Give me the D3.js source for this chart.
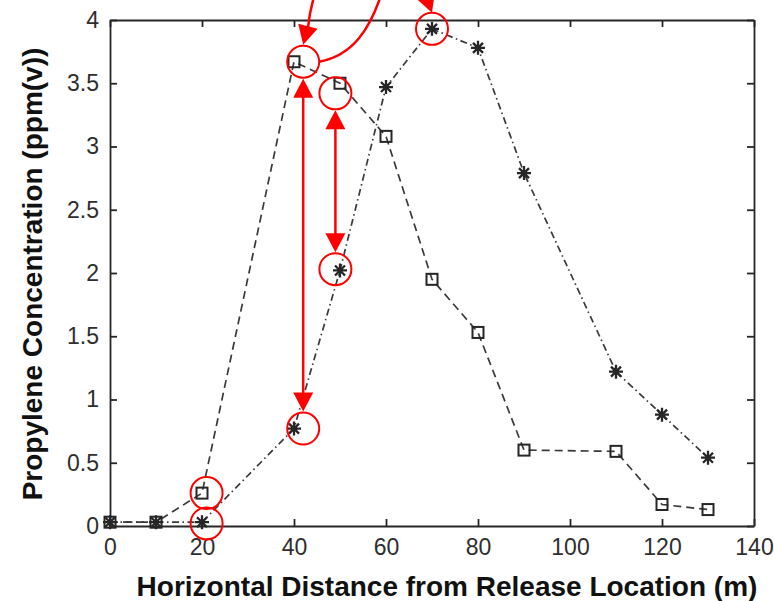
<!DOCTYPE html>
<html>
<head>
<meta charset="utf-8">
<script src="https://cdn.jsdelivr.net/npm/d3@7"></script>
<style>
  html, body { margin: 0; padding: 0; background: #fff; }
  svg { display: block; }
  text { font-family: "Liberation Sans", Arial, sans-serif; }
</style>
</head>
<body>
<script>
// ---- data ----
const distances = [0, 10, 20, 40, 50, 60, 70, 80, 90, 110, 120, 130];
const squareSeries = [0.03, 0.03, 0.26, 3.67, 3.50, 3.08, 1.95, 1.53, 0.60, 0.59, 0.17, 0.13];
const starSeries   = [0.03, 0.03, 0.03, 0.77, 2.02, 3.47, 3.93, 3.78, 2.79, 1.22, 0.88, 0.54];
const xTicks = [0, 20, 40, 60, 80, 100, 120, 140];
const yTicks = [0, 0.5, 1, 1.5, 2, 2.5, 3, 3.5, 4];
const xLabel = "Horizontal Distance from Release Location (m)";
const yLabel = "Propylene Concentration (ppm(v))";
// red annotation circles (data coordinates)
const circleX = [42, 49, 70, 49, 42, 21, 21];
const circleY = [3.67, 3.42, 3.93, 2.03, 0.77, 0.26, 0.02];
// double-headed arrows: x, y from, y to (data coordinates)
const arrowX  = [42, 49];
const arrowY1 = [3.67, 3.42];
const arrowY2 = [0.77, 2.03];

const W = 774, H = 601;
const svg = d3.select("body").append("svg").attr("width", W).attr("height", H);

const x = d3.scaleLinear().domain([0, 140]).range([110, 754]);
const y = d3.scaleLinear().domain([0, 4]).range([526, 20]);

const axisColor = "#262626";
const tickFont = 23;

function styleAxis(g) {
  g.selectAll("path.domain").attr("stroke", axisColor).attr("stroke-width", 1.8);
  g.selectAll(".tick line").attr("stroke", axisColor).attr("stroke-width", 1.8);
  g.selectAll(".tick text").attr("fill", "#2e2e2e")
    .style("font-size", tickFont + "px").style("font-family", '"Liberation Sans", Arial, sans-serif');
}

svg.append("g").attr("transform", `translate(0,${y(0)})`)
  .call(d3.axisBottom(x).tickValues(xTicks).tickSize(-7).tickSizeOuter(0).tickPadding(13).tickFormat(d3.format("d")))
  .call(styleAxis);
svg.append("g").attr("transform", `translate(0,${y(4)})`)
  .call(d3.axisTop(x).tickValues(xTicks).tickSize(-7).tickSizeOuter(0).tickFormat(""))
  .call(styleAxis);
svg.append("g").attr("transform", `translate(${x(0)},0)`)
  .call(d3.axisLeft(y).tickValues(yTicks).tickSize(-7).tickSizeOuter(0).tickPadding(11).tickFormat(d => d3.format("")(d)))
  .call(styleAxis);
svg.append("g").attr("transform", `translate(${x(140)},0)`)
  .call(d3.axisRight(y).tickValues(yTicks).tickSize(-7).tickSizeOuter(0).tickFormat(""))
  .call(styleAxis);

// ---- series ----
const sqData = distances.map((d, i) => [d, squareSeries[i]]);
const stData = distances.map((d, i) => [d, starSeries[i]]);
const line = d3.line().x(d => x(d[0])).y(d => y(d[1]));

svg.append("path").datum(sqData).attr("d", line)
  .attr("fill", "none").attr("stroke", "#3a3a3a").attr("stroke-width", 1.7)
  .attr("stroke-dasharray", "8,5");
svg.append("path").datum(stData).attr("d", line)
  .attr("fill", "none").attr("stroke", "#3a3a3a").attr("stroke-width", 1.7)
  .attr("stroke-dasharray", "7,3.5,1.5,3.5");

svg.append("g").selectAll("rect").data(sqData).join("rect")
  .attr("x", d => x(d[0]) - 5.5).attr("y", d => y(d[1]) - 5.5)
  .attr("width", 11).attr("height", 11)
  .attr("fill", "none").attr("stroke", axisColor).attr("stroke-width", 2);

const starPath = "M-7,0H7M0,-7V7M-5,-5L5,5M-5,5L5,-5";
svg.append("g").selectAll("path").data(stData).join("path")
  .attr("transform", d => `translate(${x(d[0])},${y(d[1])})`)
  .attr("d", starPath).attr("fill", "none").attr("stroke", axisColor).attr("stroke-width", 2.3);

// ---- labels ----
svg.append("text").text(xLabel)
  .attr("x", 447).attr("y", 596).attr("text-anchor", "middle")
  .style("font-size", "28px").style("font-weight", "bold").attr("fill", "#111");
svg.append("text").text(yLabel)
  .attr("transform", "translate(42,274) rotate(-90)").attr("text-anchor", "middle")
  .style("font-size", "28px").style("font-weight", "bold").attr("fill", "#111");

// ---- red annotations ----
const red = "#ff0000";
const R = 16;
const ann = svg.append("g");
circleX.forEach((cx, i) => {
  ann.append("circle").attr("cx", x(cx)).attr("cy", y(circleY[i])).attr("r", R)
    .attr("fill", "none").attr("stroke", red).attr("stroke-width", 2);
});

function arrowHead(g, tipX, tipY, angle) {
  const L = 19, hw = 10;
  const ux = Math.cos(angle), uy = Math.sin(angle);
  const bx = tipX - L * ux, by = tipY - L * uy;
  const px = -uy, py = ux;
  g.append("path")
    .attr("d", `M${tipX},${tipY}L${bx + hw * px},${by + hw * py}L${bx - hw * px},${by - hw * py}Z`)
    .attr("fill", red);
  return [bx, by];
}

arrowX.forEach((ax, i) => {
  const px = x(ax);
  const top = y(arrowY1[i]) + R + 1;
  const bot = y(arrowY2[i]) - R - 1;
  ann.append("line").attr("x1", px).attr("x2", px).attr("y1", top + 15).attr("y2", bot - 15)
    .attr("stroke", red).attr("stroke-width", 2.5);
  arrowHead(ann, px, top, -Math.PI / 2);
  arrowHead(ann, px, bot, Math.PI / 2);
});

// curved arrows leaving the top of the picture
const c1x = x(circleX[0]), c1y = y(circleY[0]);
const b1 = arrowHead(ann, c1x, c1y - R - 1, Math.PI / 2 + 0.25);
ann.append("path")
  .attr("d", `M${b1[0]},${b1[1] + 2} Q${c1x + 8},${c1y - 70} ${c1x + 30},${c1y - 110}`)
  .attr("fill", "none").attr("stroke", red).attr("stroke-width", 2.5);
ann.append("path")
  .attr("d", `M${c1x + R},${c1y} C${c1x + 48},${c1y - 6} ${c1x + 68},${c1y - 30} ${c1x + 82},${c1y - 80}`)
  .attr("fill", "none").attr("stroke", red).attr("stroke-width", 2.5);
const c3x = x(circleX[2]), c3y = y(circleY[2]);
const b3 = arrowHead(ann, c3x, c3y - R, Math.PI / 2 - 0.35);
ann.append("path")
  .attr("d", `M${b3[0]},${b3[1] + 2} L${b3[0] - 20},${b3[1] - 50}`)
  .attr("fill", "none").attr("stroke", red).attr("stroke-width", 2.5);
</script>
</body>
</html>
